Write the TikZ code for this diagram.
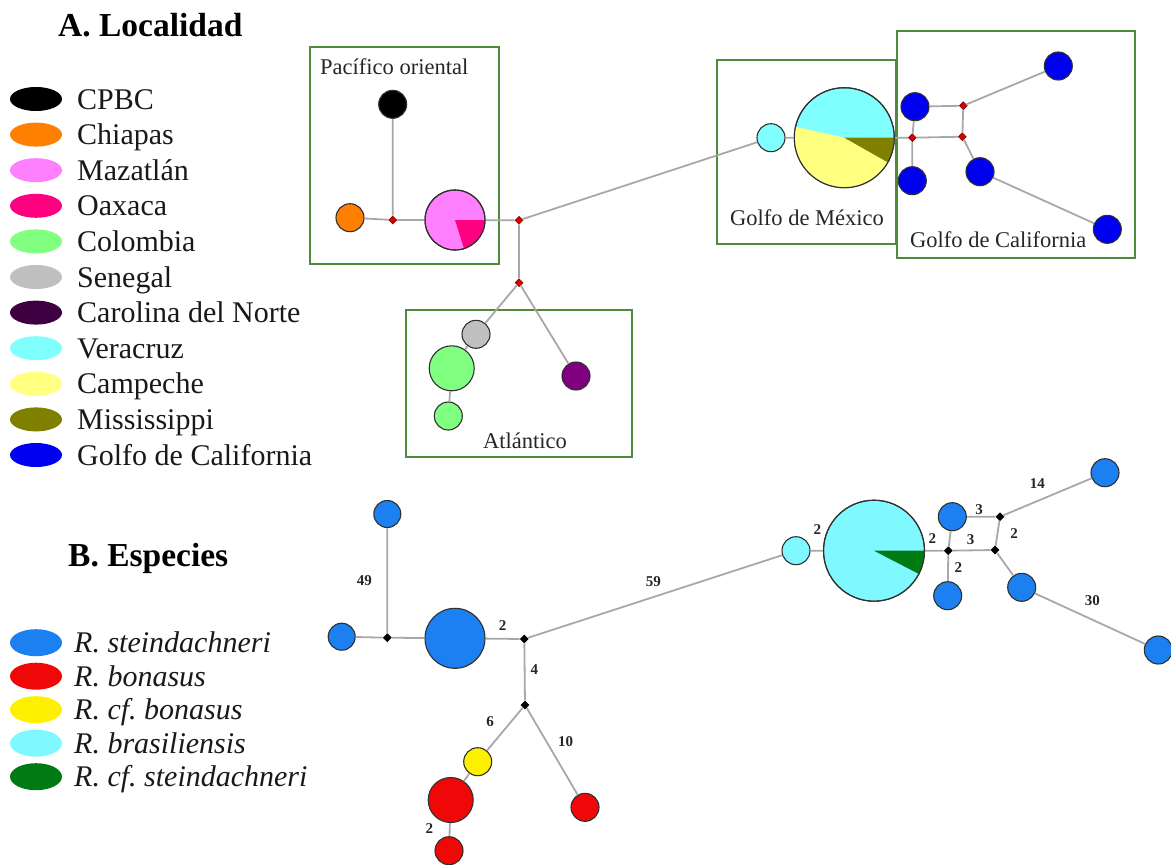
\documentclass[tikz,border=0pt]{standalone}
\usepackage{fontspec}
\setmainfont{Liberation Serif}
\usetikzlibrary{shapes.geometric}

% haplotype colours
\definecolor{cpbc}{HTML}{000000}
\definecolor{chiapas}{HTML}{FF8000}
\definecolor{mazatlan}{HTML}{FF80FF}
\definecolor{oaxaca}{HTML}{FF0080}
\definecolor{colombia}{HTML}{80FF80}
\definecolor{senegal}{HTML}{C0C0C0}
\definecolor{carolina}{HTML}{3E0040}
\definecolor{carolinanet}{HTML}{800080}
\definecolor{veracruz}{HTML}{80FFFF}
\definecolor{campeche}{HTML}{FFFF80}
\definecolor{mississippi}{HTML}{808000}
\definecolor{gcalif}{HTML}{0000F0}
\definecolor{rstein}{HTML}{1C80F0}
\definecolor{rbon}{HTML}{F00808}
\definecolor{rcfbon}{HTML}{FFF000}
\definecolor{rbras}{HTML}{80F8FF}
\definecolor{rcfstein}{HTML}{007A12}
\definecolor{boxgreen}{HTML}{4F8A3A}
\definecolor{edgegray}{HTML}{A8A8A8}
\definecolor{outline}{HTML}{303030}

\tikzset{
  hap/.style={circle, draw=outline, line width=1.1pt, inner sep=0pt, minimum size=#1},
  hap/.default=28pt,
  medA/.style={diamond, draw=red!50!black, fill=red!85!black, inner sep=0pt, minimum size=8pt, line width=0.6pt},
  medB/.style={diamond, fill=black, inner sep=0pt, minimum size=9pt},
  link/.style={draw=edgegray, line width=1.8pt},
  region/.style={draw=boxgreen, line width=2.4pt},
  regionlabel/.style={anchor=base west, inner sep=0pt, font=\fontsize{22.5}{26}\selectfont, text=black!85},
  legtext/.style={anchor=base west, inner sep=0pt, font=\fontsize{30}{34}\selectfont, text=black!90},
  legdot/.style={ellipse, minimum width=52pt, minimum height=24pt, inner sep=0pt},
  title/.style={anchor=base west, inner sep=0pt, font=\fontsize{33.5}{38}\selectfont\bfseries},
  steps/.style={font=\fontsize{15}{17}\selectfont\bfseries, inner sep=0pt, text=black!85}
}

\begin{document}
\begin{tikzpicture}[x=1pt, y=-1pt]
\useasboundingbox (0,0) rectangle (1171,865);

% ---------------- A. Localidad : legend ----------------
\node[title] (titleA) at (58,36) {A. Localidad};
\foreach \col/\txt [count=\i from 0] in {cpbc/CPBC, chiapas/Chiapas, mazatlan/Mazatlán,
    oaxaca/Oaxaca, colombia/Colombia, senegal/Senegal, carolina/Carolina del Norte,
    veracruz/Veracruz, campeche/Campeche, mississippi/Mississippi, gcalif/Golfo de California}{
  \node[legdot, fill=\col] (la\i) at (36, 99+35.6*\i) {};
  \node[legtext] (lt\i) at (77, 109+35.6*\i) {\txt};
}

% ---------------- A. Localidad : regions ----------------
\draw[region] (310,47) rectangle (499,264);
\draw[region] (406,310) rectangle (632,457);
\draw[region] (717,60) rectangle (896,244);
\draw[region] (897,31) rectangle (1135,258);
\node[regionlabel] (lblPO) at (320,74) {Pacífico oriental};
\node[regionlabel] (lblAT) at (483,448) {Atlántico};
\node[regionlabel] (lblGM) at (730,225) {Golfo de México};
\node[regionlabel] (lblGC) at (910,247) {Golfo de California};

% ---------------- A. Localidad : haplotypes ----------------
\node[hap, fill=cpbc] (aCP) at (392.7,104.3) {};
\node[hap, fill=chiapas] (aCH) at (350,217.7) {};
\node[hap=60pt, fill=mazatlan] (aMZ) at (455,220) {};
\node[hap, fill=senegal] (aSG) at (476,334.3) {};
\node[hap=45pt, fill=colombia] (aCB) at (451.7,368.3) {};
\node[hap, fill=colombia] (aCS) at (448.3,416) {};
\node[hap, fill=carolinanet] (aNC) at (576,376) {};
\node[hap, fill=veracruz] (aVC) at (771,137.7) {};
\node[hap=100pt, fill=veracruz] (aGM) at (844.3,137.7) {};
\node[hap, fill=gcalif] (aB1) at (915,106.7) {};
\node[hap, fill=gcalif] (aB2) at (912.3,180.7) {};
\node[hap, fill=gcalif] (aB3) at (980,171.7) {};
\node[hap, fill=gcalif] (aB4) at (1058.3,66) {};
\node[hap, fill=gcalif] (aB5) at (1107.3,229.3) {};

% median vectors
\node[medA] (aR1) at (392.7,220) {};
\node[medA] (aR2) at (519,220.3) {};
\node[medA] (aR3) at (519,282.7) {};
\node[medA] (aR4) at (912.3,137.7) {};
\node[medA] (aR5) at (962.3,136.7) {};
\node[medA] (aR6) at (963.3,105.7) {};

% pie sectors
\fill[oaxaca] (aMZ.center) -- ++(-72.5:30pt) arc[start angle=-72.5, end angle=0, radius=30pt] -- cycle;
\draw[outline, line width=1.1pt] (aMZ.center) circle[radius=30pt];
\fill[campeche] (aGM.center) -- ++(167.4:50pt) arc[start angle=167.4, end angle=330.5, radius=50pt] -- cycle;
\fill[mississippi] (aGM.center) -- ++(-29.5:50pt) arc[start angle=-29.5, end angle=0, radius=50pt] -- cycle;
\draw[outline, line width=1.1pt] (aGM.center) circle[radius=50pt];

% connectors
\path[link] (aCH) -- (aR1) (aCP) -- (aR1) (aR1) -- (aMZ) (aMZ) -- (aR2)
  (aR2) -- (aR3) (aR2) -- (aVC) (aVC) -- (aGM) (aGM) -- (aR4)
  (aR4) -- (aR5) (aR4) -- (aB1) (aR4) -- (aB2) (aB1) -- (aR6) (aR6) -- (aR5)
  (aR6) -- (aB4) (aR5) -- (aB3) (aB3) -- (aB5)
  (aR3) -- (aSG) (aR3) -- (aNC) (aSG) -- (aCB) (aCB) -- (aCS);

% ---------------- B. Especies : legend ----------------
\node[title] (titleB) at (68,566) {B. Especies};
\foreach \col/\txt [count=\i from 0] in {rstein/steindachneri, rbon/bonasus,
    rcfbon/cf.\ bonasus, rbras/brasiliensis, rcfstein/cf.\ steindachneri}{
  \node[legdot, minimum height=27pt, fill=\col] (lb\i) at (36, 642.7+33.5*\i) {};
  \node[legtext] (lu\i) at (74, 652.7+33.5*\i) {\itshape R.\ \txt};
}

% ---------------- B. Especies : haplotypes ----------------
\node[hap=27pt, fill=rstein] (bTop) at (387.3,514) {};
\node[hap=27pt, fill=rstein] (bLeft) at (341.7,636.7) {};
\node[hap=60pt, fill=rstein] (bBig) at (455,638.3) {};
\node[hap, fill=rcfbon] (bYe) at (477.7,761.7) {};
\node[hap=45pt, fill=rbon] (bRB) at (450.7,800) {};
\node[hap, fill=rbon] (bRS) at (449,850.7) {};
\node[hap, fill=rbon] (bRR) at (585,807.3) {};
\node[hap, fill=rbras] (bLC) at (796,550.7) {};
\node[hap=101pt, fill=rbras] (bBC) at (874,550.7) {};
\node[hap, fill=rstein] (bUp) at (952.3,516.7) {};
\node[hap, fill=rstein] (bDn) at (947.7,595.7) {};
\node[hap, fill=rstein] (bMid) at (1021.7,587.3) {};
\node[hap, fill=rstein] (bTR) at (1105,472.7) {};
\node[hap, fill=rstein] (bFR) at (1158.3,650) {};

\node[medB] (k1) at (387.3,637.7) {};
\node[medB] (k2) at (524.3,639) {};
\node[medB] (k3) at (525,705) {};
\node[medB] (ka) at (948.3,550.7) {};
\node[medB] (kb) at (995,550) {};
\node[medB] (kc) at (1000,516.7) {};

\fill[rcfstein] (bBC.center) -- ++(-27.4:50.5pt) arc[start angle=-27.4, end angle=0, radius=50.5pt] -- cycle;
\draw[outline, line width=1.1pt] (bBC.center) circle[radius=50.5pt];

\path[link] (bTop) -- (k1) (bLeft) -- (k1) (k1) -- (bBig) (bBig) -- (k2)
  (k2) -- (k3) (k2) -- (bLC) (k3) -- (bYe) (k3) -- (bRR) (bYe) -- (bRB) (bRB) -- (bRS)
  (bLC) -- (bBC) (bBC) -- (ka) (ka) -- (kb) (ka) -- (bUp) (ka) -- (bDn)
  (bUp) -- (kc) (kc) -- (kb) (kc) -- (bTR) (kb) -- (bMid) (bMid) -- (bFR);

% mutational steps
\node[steps] (s49) at (364.3,580.7) {49};
\node[steps] (s2a) at (502.7,625.7) {2};
\node[steps] (s4) at (534.3,669.5) {4};
\node[steps] (s6) at (490,721.7) {6};
\node[steps] (s10) at (565.7,741.7) {10};
\node[steps] (s2b) at (429.3,828.3) {2};
\node[steps] (s59) at (653.3,581.7) {59};
\node[steps] (s2c) at (817.3,529.3) {2};
\node[steps] (s2d) at (932.3,538.3) {2};
\node[steps] (s3a) at (970.7,540) {3};
\node[steps] (s3b) at (979,509.3) {3};
\node[steps] (s2e) at (1014,533.3) {2};
\node[steps] (s2f) at (958.3,567.3) {2};
\node[steps] (s14) at (1037.3,483.3) {14};
\node[steps] (s30) at (1092.3,601) {30};
\end{tikzpicture}
\end{document}
